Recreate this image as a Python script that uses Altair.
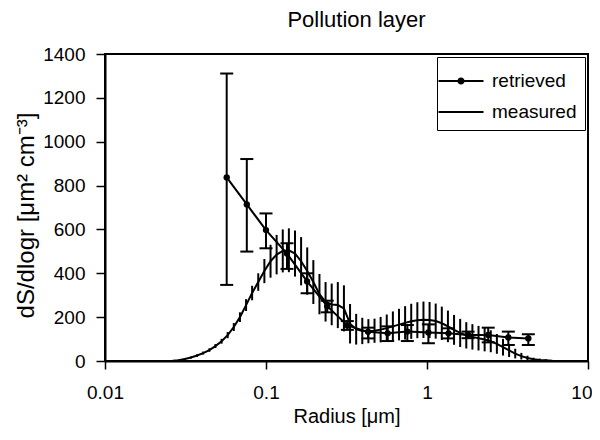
import altair as alt
import pandas as pd

# Retrieved size distribution (points with error bars)
ret_r = [0.057, 0.076, 0.100, 0.135, 0.180, 0.240, 0.320, 0.430, 0.570, 0.755,
         1.02, 1.36, 1.80, 2.40, 3.20, 4.26]
ret_v = [837, 714, 597, 490, 363, 250, 162, 133, 126, 134, 130, 126, 119, 119, 107, 103]
ret_hi = [1311, 921, 673, 537, 400, 275, 182, 152, 158, 164, 167, 149, 134, 152, 134, 122]
ret_lo = [347, 499, 514, 420, 309, 222, 142, 103, 91, 91, 81, 103, 104, 85, 73, 73]

# Measured size distribution (line with dense error bars)
mea_r = [0.0263, 0.0287, 0.0313, 0.0342, 0.0373, 0.0407, 0.0445, 0.0485, 0.0530, 0.0578,
         0.0631, 0.0689, 0.0752, 0.0820, 0.0895, 0.0977, 0.1067, 0.1164, 0.1271, 0.1387,
         0.1514, 0.1652, 0.1803, 0.1968, 0.2148, 0.2344, 0.2559, 0.2793, 0.3048, 0.3327,
         0.3631, 0.3963, 0.4325, 0.4721, 0.5152, 0.5623, 0.6138, 0.6699, 0.7311, 0.7980,
         0.8710, 0.9506, 1.0375, 1.1324, 1.2359, 1.3490, 1.4723, 1.6069, 1.7539, 1.9143,
         2.0893, 2.2803, 2.4889, 2.7164, 2.9648, 3.2359, 3.5318, 3.8548, 4.2073, 4.5920,
         5.0119, 5.4702, 5.9704]
mea_v = [1, 4, 9, 16, 25, 36, 50, 68, 90, 118,
         155, 200, 255, 310, 360, 410, 455, 485, 502, 505,
         490, 455, 410, 360, 305, 270, 258, 255, 240, 170,
         145, 137, 136, 138, 143, 150, 158, 166, 174, 181,
         186, 188, 187, 182, 172, 158, 142, 128, 117, 110,
         104, 98, 90, 78, 63, 48, 34, 22, 14, 8,
         5, 3, 1]
mea_e = [2, 3, 4, 5, 6, 7, 8, 9, 11, 14,
         18, 22, 27, 33, 40, 55, 75, 90, 98, 100,
         105, 110, 108, 100, 92, 90, 95, 105, 105, 90,
         70, 60, 55, 55, 58, 62, 68, 72, 76, 80,
         82, 83, 82, 80, 76, 72, 68, 64, 60, 58,
         56, 54, 50, 45, 38, 30, 22, 15, 10, 7,
         6, 5, 4]

series_names = ["retrieved", "measured"]
x_ticks = [0.01, 0.1, 1, 10]
y_ticks = [0, 200, 400, 600, 800, 1000, 1200, 1400]

FONT = "Liberation Sans"

ret = pd.DataFrame({"r": ret_r, "v": ret_v, "hi": ret_hi, "lo": ret_lo})
mea = pd.DataFrame({"r": mea_r, "v": mea_v,
                    "hi": [v + e for v, e in zip(mea_v, mea_e)],
                    "lo": [max(v - e, 0) for v, e in zip(mea_v, mea_e)]})
leg = pd.DataFrame({"series": series_names})

xscale = alt.Scale(type="log", domain=[0.01, 10], nice=False)
yscale = alt.Scale(domain=[0, 1400], nice=False)

xaxis = alt.Axis(values=x_ticks, format="~g", title="Radius [μm]", grid=False,
                 tickSize=8, labelPadding=14, labelFontSize=19, titleFontSize=20,
                 titleFontWeight="normal", titleY=55, titleBaseline="middle",
                 labelFlush=False,
                 labelAlign=alt.condition("datum.value >= 10", alt.value("right"),
                                          alt.value("center")),
                 labelOffset=alt.condition("datum.value >= 10", alt.value(4),
                                           alt.value(0)))
yaxis = alt.Axis(values=y_ticks, format="d", title="dS/dlogr [μm² cm⁻³]", grid=False,
                 tickSize=9, labelPadding=11, labelFontSize=19, titleFontSize=24,
                 titleFontWeight="normal", titleX=-79, titleY=161, titleAngle=-90,
                 titleBaseline="middle", titleAlign="center")

X = alt.X("r:Q", scale=xscale, axis=xaxis)

mea_err = alt.Chart(mea).mark_rule(color="black", strokeWidth=2).encode(
    x=X, y=alt.Y("lo:Q", scale=yscale, axis=yaxis), y2="hi:Q")
mea_line = alt.Chart(mea).mark_line(color="black", strokeWidth=2).encode(
    x=X, y=alt.Y("v:Q", scale=yscale, axis=yaxis))

ret_err = alt.Chart(ret).mark_rule(color="black", strokeWidth=2).encode(
    x=X, y=alt.Y("lo:Q", scale=yscale, axis=yaxis), y2="hi:Q")
ret_cap_hi = alt.Chart(ret).mark_tick(color="black", orient="horizontal", size=13,
                                      thickness=2, opacity=1).encode(
    x=X, y=alt.Y("hi:Q", scale=yscale, axis=yaxis))
ret_cap_lo = alt.Chart(ret).mark_tick(color="black", orient="horizontal", size=13,
                                      thickness=2, opacity=1).encode(
    x=X, y=alt.Y("lo:Q", scale=yscale, axis=yaxis))
ret_line = alt.Chart(ret).mark_line(color="black", strokeWidth=2).encode(
    x=X, y=alt.Y("v:Q", scale=yscale, axis=yaxis))
ret_pts = alt.Chart(ret).mark_point(color="black", filled=True, size=40, opacity=1).encode(
    x=X, y=alt.Y("v:Q", scale=yscale, axis=yaxis))

path_ret = ("M-1.5,-0.07H1.5V0.07H-1.5Z "
            "M-0.24,0A0.24,0.24,0,1,1,0.24,0A0.24,0.24,0,1,1,-0.24,0Z")
path_mea = "M-1.5,-0.07H1.5V0.07H-1.5Z"

legend_layer = alt.Chart(leg).mark_point(color="black", filled=True, opacity=0).encode(
    shape=alt.Shape("series:N",
                    scale=alt.Scale(domain=series_names, range=[path_ret, path_mea]),
                    legend=alt.Legend(title=None, orient="none", legendX=332, legendY=3,
                                      strokeColor="black", fillColor="white",
                                      padding=8, rowPadding=5, labelOffset=15,
                                      symbolSize=900, labelFontSize=19,
                                      labelFont=FONT, labelColor="black",
                                      symbolFillColor="black",
                                      symbolStrokeColor="black")))

chart = alt.layer(
    mea_err, mea_line, ret_err, ret_cap_hi, ret_cap_lo, ret_line, ret_pts, legend_layer
).properties(
    width=483, height=307,
    title=alt.TitleParams("Pollution layer", fontSize=22, font=FONT,
                          fontWeight="normal", color="black", offset=13, dx=10),
    autosize=alt.AutoSizeParams(type="none"),
    padding={"left": 97, "top": 46, "right": 4, "bottom": 69},
).configure_view(
    stroke="black", strokeWidth=2
).configure_axis(
    domainColor="black", domainWidth=2, tickColor="black", tickWidth=1.5,
    labelColor="black", titleColor="black", labelFont=FONT, titleFont=FONT
)

chart.save("out.html", embed_options={"renderer": "svg", "actions": False})
